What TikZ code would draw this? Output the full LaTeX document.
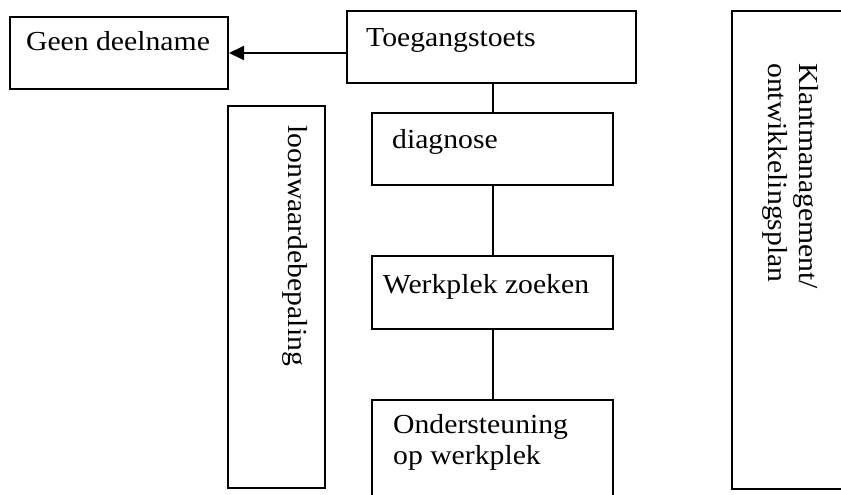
\documentclass[tikz,border=0pt]{standalone}
\usepackage{fontspec}
\setmainfont{Liberation Serif}[FakeStretch=1.08]
\usetikzlibrary{arrows.meta}
\begin{document}
\begin{tikzpicture}[x=1pt,y=-1pt,
  box/.style={draw, line width=2pt, anchor=north west, inner sep=0pt},
  txt/.style={inner sep=0pt, font=\fontsize{27.5}{31}\selectfont},
  link/.style={line width=2pt}]
\useasboundingbox (0,0) rectangle (841,495);
% boxes
\node[box, minimum width=218pt, minimum height=72pt] (geen) at (9,16) {};
\node[box, minimum width=289pt, minimum height=72pt] (toeg) at (346,10) {};
\node[box, minimum width=97pt, minimum height=382pt] (loon) at (227,105) {};
\node[box, minimum width=241pt, minimum height=72pt] (diag) at (371,112) {};
\node[box, minimum width=241pt, minimum height=73pt] (werk) at (371,255) {};
\node[box, minimum width=241pt, minimum height=110pt] (onder) at (371,399) {};
\node[box, minimum width=130pt, minimum height=478pt] (klant) at (731,10) {};
% texts
\node[txt, anchor=base] (geent) at (118,51) {Geen deelname};
\node[txt, anchor=base west] (toegt) at (366,47) {Toegangstoets};
\node[txt, anchor=base west] (diagt) at (392,148) {diagnose};
\node[txt, anchor=base] (werkt) at (486,293) {Werkplek zoeken};
\node[txt, anchor=north west, align=left] (ondert) at (393,414) {Ondersteuning\\op werkplek};
\node[txt, rotate=-90, anchor=north west] (loont) at (308,125) {loonwaardebepaling};
\node[txt, rotate=-90, anchor=north west, align=left] (klantt) at (819,63) {Klantmanagement/\\ontwikkelingsplan};
% connectors
\draw[link, -{Triangle[length=15pt,width=14pt]}] (toeg.west |- geen.east) -- (geen.east);
\draw[link] (diag.north |- toeg.south) -- (diag.north);
\draw[link] (diag.south) -- (werk.north);
\draw[link] (werk.south) -- (onder.north);
\end{tikzpicture}
\end{document}
